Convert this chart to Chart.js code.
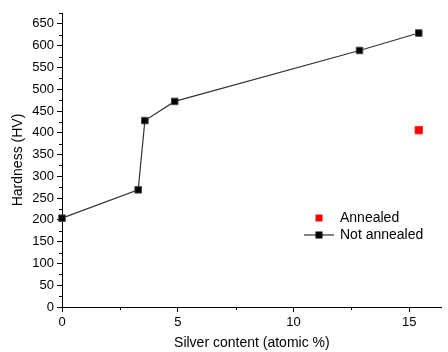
<!DOCTYPE html>
<html>
<head>
<meta charset="utf-8">
<script src="https://cdn.jsdelivr.net/npm/chart.js@4/dist/chart.umd.min.js"></script>
<style>
  html, body { margin: 0; padding: 0; background: #fff; }
  #wrap { width: 448px; height: 352px; }
</style>
</head>
<body>
<div id="wrap"><canvas id="hardnessChart"></canvas></div>
<script>
// silver content (atomic %) and hardness (HV)
const notAnnealedX = [0, 3.29, 3.58, 4.87, 12.85, 15.41];
const notAnnealedY = [204, 269, 428, 472, 589, 629];
const annealedX = [15.41];
const annealedY = [406];

const xTicks = [0, 5, 10, 15];
const xMinorTicks = [2.5, 7.5, 12.5];
const yTicks = [0, 50, 100, 150, 200, 250, 300, 350, 400, 450, 500, 550, 600, 650];
const yMinorTicks = [25, 75, 125, 175, 225, 275, 325, 375, 425, 475, 525, 575, 625, 675];

const FONT = "'Liberation Sans', Arial, sans-serif";

// short outward minor ticks
const minorTicks = {
    id: 'minorTicks',
    afterDraw(chart) {
        const ctx = chart.ctx;
        const x = chart.scales.x, y = chart.scales.y;
        ctx.save();
        ctx.strokeStyle = '#000';
        ctx.lineWidth = 1;
        ctx.beginPath();
        yMinorTicks.forEach(v => {
            const py = Math.round(y.getPixelForValue(v)) + 0.5;
            ctx.moveTo(x.left - 3, py);
            ctx.lineTo(x.left, py);
        });
        xMinorTicks.forEach(v => {
            const px = Math.round(x.getPixelForValue(v)) + 0.5;
            ctx.moveTo(px, y.bottom);
            ctx.lineTo(px, y.bottom + 3);
        });
        ctx.stroke();
        ctx.restore();
    }
};

// legend box inside the plot
const innerLegend = {
    id: 'innerLegend',
    afterDraw(chart) {
        const ctx = chart.ctx;
        ctx.save();
        ctx.font = '14px ' + FONT;
        ctx.textBaseline = 'middle';

        // Annealed
        ctx.fillStyle = '#ff0000';
        ctx.fillRect(315.5, 214.5, 7, 7);
        ctx.fillStyle = '#000';
        ctx.fillText('Annealed', 340, 218);

        // Not annealed
        ctx.strokeStyle = '#333';
        ctx.lineWidth = 1.2;
        ctx.beginPath();
        ctx.moveTo(304, 235);
        ctx.lineTo(334, 235);
        ctx.stroke();
        ctx.fillRect(315.5, 231.5, 7, 7);
        ctx.fillText('Not annealed', 340, 235);
        ctx.restore();
    }
};

const ctx = document.getElementById('hardnessChart').getContext('2d');
new Chart(ctx, {
    type: 'scatter',
    data: {
        datasets: [{
            label: 'Not annealed',
            data: notAnnealedX.map((v, i) => ({ x: v, y: notAnnealedY[i] })),
            showLine: true,
            borderColor: '#333',
            borderWidth: 1.2,
            backgroundColor: '#000',
            pointStyle: 'rect',
            pointRadius: 4.6,
            pointBorderColor: '#444',
            pointBorderWidth: 1,
            clip: false
        }, {
            label: 'Annealed',
            data: annealedX.map((v, i) => ({ x: v, y: annealedY[i] })),
            backgroundColor: '#ff0000',
            pointStyle: 'rect',
            pointRadius: 5.3,
            pointBorderColor: '#ff3030',
            pointBorderWidth: 1,
            clip: false
        }]
    },
    options: {
        responsive: true,
        maintainAspectRatio: false,
        animation: false,
        layout: { padding: { top: 13, right: 1, left: 0, bottom: 0 } },
        plugins: {
            legend: { display: false },
            tooltip: { enabled: false }
        },
        scales: {
            x: {
                type: 'linear',
                min: 0,
                max: 16.4,
                afterBuildTicks: scale => { scale.ticks = xTicks.map(v => ({ value: v })); },
                afterFit: scale => { scale.height = 45; },
                grid: { drawOnChartArea: false, tickLength: 5, tickColor: '#000' },
                border: { color: '#000', width: 1 },
                ticks: { color: '#000', padding: 3, maxRotation: 0, font: { family: FONT, size: 13 } },
                title: {
                    display: true,
                    text: 'Silver content (atomic %)',
                    color: '#000',
                    padding: { top: 0, bottom: 0 },
                    font: { family: FONT, size: 14 }
                }
            },
            y: {
                type: 'linear',
                min: 0,
                max: 675,
                afterBuildTicks: scale => { scale.ticks = yTicks.map(v => ({ value: v })); },
                afterFit: scale => { scale.width = 62; },
                grid: { drawOnChartArea: false, tickLength: 5, tickColor: '#000' },
                border: { color: '#000', width: 1 },
                ticks: { color: '#000', padding: 3, font: { family: FONT, size: 13 } },
                title: {
                    display: true,
                    text: 'Hardness (HV)',
                    color: '#000',
                    padding: { top: 10, bottom: 0 },
                    font: { family: FONT, size: 14 }
                }
            }
        }
    },
    plugins: [minorTicks, innerLegend]
});
</script>
</body>
</html>
